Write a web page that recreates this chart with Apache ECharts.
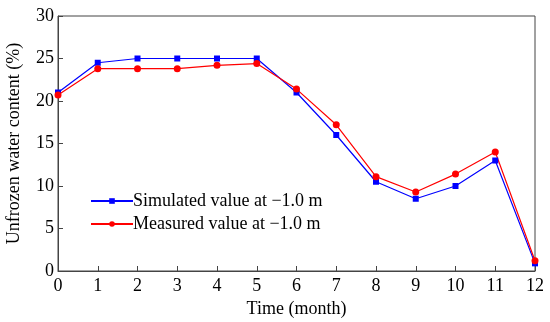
<!DOCTYPE html>
<html>
<head>
<meta charset="utf-8">
<script src="https://cdn.jsdelivr.net/npm/echarts@6/dist/echarts.min.js"></script>
<style>html,body{margin:0;padding:0;background:#fff}#c{width:550px;height:322px}</style>
</head>
<body>
<div id="c"></div>
<script>
var months = [0,1,2,3,4,5,6,7,8,9,10,11,12];
var simulated = [21.0,24.5,25.0,25.0,25.0,25.0,21.0,16.0,10.5,8.5,10.0,13.0,0.9];
var measured  = [20.7,23.8,23.8,23.8,24.2,24.4,21.4,17.2,11.1,9.3,11.4,14.0,1.2];
var seriesNames = ['Simulated value at \u22121.0 m','Measured value at \u22121.0 m'];
var xTitle = 'Time (month)';
var yTitle = 'Unfrozen water content (%)';

var font = 'Liberation Serif';
var chart = echarts.init(document.getElementById('c'));
function pairs(v){ return months.map(function(m,i){ return [m, v[i]]; }); }
chart.setOption({
  animation:false,
  grid:{left:58, top:16, right:15, bottom:51, show:true, borderColor:'#444', borderWidth:1,
        containLabel:false, outerBoundsMode:'none'},
  legend:{
    left:85, top:187, orient:'vertical', itemWidth:42, itemHeight:7, itemGap:5,
    textStyle:{fontFamily:font, fontSize:18, color:'#000', padding:[0,0,0,-5]},
    data:seriesNames
  },
  xAxis:{
    type:'value', min:0, max:12, interval:1,
    name:xTitle, nameLocation:'middle', nameGap:26,
    nameTextStyle:{fontFamily:font, fontSize:18, color:'#000'},
    axisLine:{lineStyle:{color:'#444', width:1}},
    axisTick:{inside:true, length:5, lineStyle:{color:'#444'}},
    axisLabel:{fontFamily:font, fontSize:18, color:'#000', margin:6},
    splitLine:{show:false}
  },
  yAxis:{
    type:'value', min:0, max:30, interval:5,
    name:yTitle, nameLocation:'middle', nameGap:35,
    nameTextStyle:{fontFamily:font, fontSize:18, color:'#000'},
    axisLine:{lineStyle:{color:'#444', width:1}},
    axisTick:{inside:true, length:5, lineStyle:{color:'#444'}},
    axisLabel:{fontFamily:font, fontSize:18, color:'#000', margin:4},
    splitLine:{show:false}
  },
  series:[
    {name:seriesNames[0], type:'line', data:pairs(simulated), symbol:'rect', symbolSize:6,
     itemStyle:{color:'#0000ff'}, lineStyle:{color:'#0000ff', width:1.2}},
    {name:seriesNames[1], type:'line', data:pairs(measured), symbol:'circle', symbolSize:7,
     itemStyle:{color:'#ff0000'}, lineStyle:{color:'#ff0000', width:1.2}}
  ]
});
</script>
</body>
</html>
